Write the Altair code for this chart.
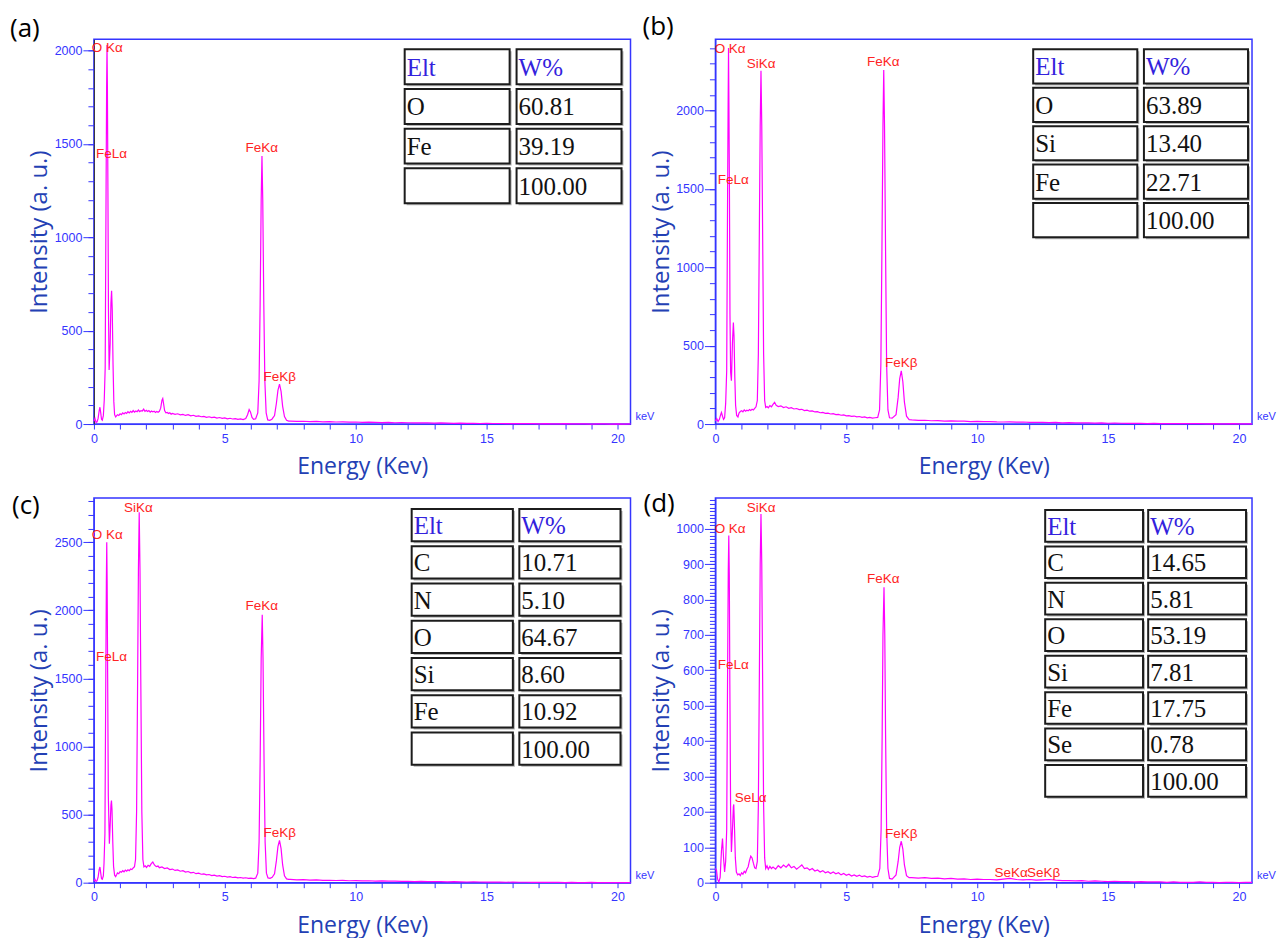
import altair as alt
import pandas as pd

# ---------------------------------------------------------------- data ----
XMAX = 20.5
TAIL_START = 7.5
TAIL_STEP = 0.25

# (energy keV, counts), 0 - 7.5 keV
A_LOW = [(0.00, 15), (0.04, 30), (0.08, 8), (0.12, 12), (0.16, 30), (0.20, 70), (0.23, 90), (0.26, 60),
         (0.29, 25), (0.32, 20), (0.36, 45), (0.395, 130), (0.43, 300), (0.465, 1270), (0.485, 1800),
         (0.50, 2030), (0.515, 1800), (0.535, 1250), (0.555, 620), (0.58, 290), (0.62, 430), (0.65, 650),
         (0.675, 713), (0.70, 610), (0.73, 320), (0.76, 120), (0.79, 50), (0.83, 38), (0.87, 45), (0.9, 50),
         (0.95, 46), (1.0, 55), (1.05, 50), (1.1, 60), (1.15, 54), (1.2, 62), (1.25, 57), (1.3, 66),
         (1.35, 60), (1.4, 68), (1.45, 62), (1.5, 72), (1.55, 64), (1.6, 70), (1.65, 66), (1.7, 75),
         (1.75, 66), (1.8, 72), (1.85, 70), (1.9, 80), (1.95, 68), (2.0, 74), (2.05, 67), (2.1, 72),
         (2.15, 64), (2.2, 70), (2.25, 65), (2.3, 69), (2.35, 62), (2.4, 67), (2.45, 63), (2.5, 68),
         (2.55, 85), (2.6, 128), (2.63, 137), (2.66, 110), (2.7, 72), (2.75, 60), (2.8, 62), (2.85, 56),
         (2.9, 60), (2.95, 53), (3.0, 57), (3.1, 52), (3.2, 55), (3.3, 49), (3.4, 52), (3.5, 46), (3.6, 50),
         (3.7, 44), (3.8, 47), (3.9, 41), (4.0, 44), (4.1, 39), (4.2, 41), (4.3, 36), (4.4, 39), (4.5, 34),
         (4.6, 37), (4.7, 32), (4.8, 35), (4.9, 30), (5.0, 33), (5.1, 28), (5.2, 31), (5.3, 27), (5.4, 29),
         (5.5, 25), (5.6, 28), (5.7, 24), (5.8, 30), (5.87, 50), (5.93, 78), (5.98, 65), (6.04, 35),
         (6.1, 25), (6.18, 28), (6.26, 60), (6.31, 230), (6.35, 640), (6.39, 1200), (6.42, 1435),
         (6.45, 1200), (6.49, 640), (6.53, 230), (6.58, 60), (6.64, 22), (6.72, 20), (6.8, 26), (6.9, 45),
         (6.97, 110), (7.03, 180), (7.09, 214), (7.15, 175), (7.21, 95), (7.28, 40), (7.36, 20), (7.44, 16)]

B_LOW = [(0.00, 20), (0.05, 35), (0.10, 15), (0.15, 30), (0.20, 60), (0.23, 74), (0.27, 50), (0.31, 30),
         (0.35, 40), (0.39, 130), (0.43, 340), (0.465, 1480), (0.485, 2050), (0.50, 2400), (0.515, 2050),
         (0.535, 1500), (0.555, 700), (0.58, 330), (0.61, 276), (0.65, 520), (0.685, 648), (0.71, 560),
         (0.74, 300), (0.77, 120), (0.81, 55), (0.86, 45), (0.9, 70), (0.95, 80), (1.0, 85), (1.05, 78),
         (1.1, 90), (1.15, 82), (1.2, 88), (1.25, 84), (1.3, 92), (1.35, 86), (1.4, 95), (1.45, 90),
         (1.5, 100), (1.55, 110), (1.6, 150), (1.64, 450), (1.68, 1280), (1.71, 1900), (1.74, 2255),
         (1.77, 1900), (1.80, 1280), (1.84, 450), (1.88, 150), (1.92, 106), (1.97, 112), (2.02, 104),
         (2.08, 118), (2.14, 110), (2.2, 125), (2.26, 138), (2.32, 120), (2.4, 112), (2.5, 116), (2.6, 105),
         (2.7, 110), (2.8, 100), (2.9, 104), (3.0, 96), (3.1, 99), (3.2, 92), (3.3, 94), (3.4, 86),
         (3.5, 89), (3.6, 82), (3.7, 84), (3.8, 77), (3.9, 79), (4.0, 72), (4.1, 74), (4.2, 68), (4.3, 70),
         (4.4, 64), (4.5, 66), (4.6, 60), (4.7, 62), (4.8, 56), (4.9, 58), (5.0, 52), (5.1, 54), (5.2, 49),
         (5.3, 51), (5.4, 46), (5.5, 48), (5.6, 43), (5.7, 45), (5.8, 40), (5.9, 42), (6.0, 38), (6.1, 40),
         (6.2, 42), (6.27, 90), (6.32, 380), (6.36, 1100), (6.40, 1900), (6.43, 2260), (6.46, 1900),
         (6.50, 1100), (6.54, 380), (6.59, 90), (6.65, 40), (6.75, 38), (6.9, 60), (6.98, 170), (7.04, 290),
         (7.10, 340), (7.16, 270), (7.22, 140), (7.3, 50), (7.4, 28)]

C_LOW = [(0.00, 10), (0.04, 25), (0.08, 8), (0.12, 15), (0.16, 40), (0.20, 95), (0.23, 115), (0.26, 70),
         (0.29, 30), (0.32, 25), (0.36, 50), (0.385, 140), (0.42, 360), (0.455, 1550), (0.475, 2200),
         (0.49, 2500), (0.505, 2200), (0.525, 1500), (0.55, 640), (0.59, 286), (0.62, 420), (0.65, 570),
         (0.67, 603), (0.69, 540), (0.72, 300), (0.75, 120), (0.79, 55), (0.83, 45), (0.87, 60), (0.9, 72),
         (0.95, 66), (1.0, 82), (1.05, 76), (1.1, 88), (1.15, 80), (1.2, 92), (1.25, 84), (1.3, 95),
         (1.35, 88), (1.4, 100), (1.45, 96), (1.5, 108), (1.55, 118), (1.59, 170), (1.63, 520), (1.67, 1500),
         (1.70, 2300), (1.73, 2720), (1.76, 2300), (1.79, 1500), (1.83, 520), (1.87, 170), (1.91, 116),
         (1.96, 124), (2.01, 112), (2.07, 128), (2.13, 120), (2.19, 140), (2.25, 152), (2.31, 130),
         (2.38, 118), (2.45, 122), (2.5, 110), (2.6, 116), (2.7, 104), (2.8, 108), (2.9, 96), (3.0, 100),
         (3.1, 90), (3.2, 94), (3.3, 84), (3.4, 88), (3.5, 78), (3.6, 82), (3.7, 72), (3.8, 76), (3.9, 66),
         (4.0, 70), (4.1, 62), (4.2, 65), (4.3, 57), (4.4, 60), (4.5, 52), (4.6, 55), (4.7, 48), (4.8, 51),
         (4.9, 44), (5.0, 47), (5.1, 41), (5.2, 44), (5.3, 38), (5.4, 41), (5.5, 36), (5.6, 38), (5.7, 33),
         (5.8, 36), (5.9, 31), (6.0, 34), (6.1, 30), (6.18, 33), (6.26, 70), (6.31, 300), (6.35, 880),
         (6.39, 1650), (6.43, 1967), (6.46, 1650), (6.50, 880), (6.54, 300), (6.59, 70), (6.65, 35),
         (6.73, 32), (6.81, 40), (6.9, 65), (6.97, 160), (7.03, 265), (7.09, 310), (7.15, 250), (7.21, 130),
         (7.28, 50), (7.36, 28), (7.44, 24)]

D_LOW = [(0.00, 40), (0.04, 35), (0.08, 10), (0.13, 2), (0.18, 15), (0.23, 90), (0.27, 125), (0.31, 70),
         (0.35, 30), (0.39, 60), (0.43, 150), (0.465, 600), (0.49, 880), (0.51, 981), (0.53, 870),
         (0.55, 560), (0.58, 200), (0.61, 87), (0.65, 150), (0.685, 215), (0.70, 221), (0.73, 150),
         (0.76, 70), (0.80, 30), (0.85, 22), (0.9, 25), (0.95, 20), (1.0, 28), (1.05, 24), (1.1, 32),
         (1.15, 28), (1.2, 38), (1.25, 45), (1.3, 62), (1.35, 75), (1.4, 70), (1.45, 55), (1.5, 42),
         (1.55, 40), (1.6, 60), (1.64, 220), (1.68, 600), (1.71, 900), (1.74, 1042), (1.77, 900), (1.80, 600),
         (1.84, 220), (1.88, 70), (1.92, 40), (1.97, 48), (2.02, 38), (2.08, 46), (2.14, 40), (2.2, 44),
         (2.3, 38), (2.4, 48), (2.5, 42), (2.6, 50), (2.7, 44), (2.8, 52), (2.9, 42), (3.0, 46), (3.1, 38),
         (3.2, 44), (3.3, 50), (3.4, 40), (3.5, 42), (3.6, 36), (3.7, 40), (3.8, 33), (3.9, 36), (4.0, 30),
         (4.1, 34), (4.2, 28), (4.3, 31), (4.4, 26), (4.5, 30), (4.6, 25), (4.7, 28), (4.8, 22), (4.9, 26),
         (5.0, 21), (5.1, 24), (5.2, 19), (5.3, 22), (5.4, 18), (5.5, 21), (5.6, 17), (5.7, 19), (5.8, 16),
         (5.9, 18), (6.0, 15), (6.1, 17), (6.2, 18), (6.28, 40), (6.33, 150), (6.37, 420), (6.40, 700),
         (6.44, 835), (6.47, 700), (6.50, 420), (6.54, 150), (6.59, 40), (6.65, 12), (6.75, 10), (6.9, 22),
         (6.98, 60), (7.04, 100), (7.10, 117), (7.16, 95), (7.22, 50), (7.3, 20), (7.4, 14)]

# counts from 7.5 keV to 20.5 keV, one value every 0.25 keV
A_TAIL = [16, 14, 15, 13, 14, 12, 13, 11, 12, 10, 11, 9, 10, 9, 8, 9, 7, 8, 7, 6,
          7, 6, 5, 6, 5, 4, 5, 4, 4, 3, 4, 3, 3, 2, 3, 2, 2, 2, 1, 2,
          1, 1, 2, 1, 1, 1, 0, 1, 1, 0, 1, 0, 1]
B_TAIL = [26, 23, 24, 21, 22, 19, 20, 18, 19, 16, 17, 15, 16, 14, 13, 14, 12, 13, 11, 10,
          11, 9, 10, 8, 9, 7, 8, 7, 6, 7, 5, 6, 5, 4, 5, 4, 3, 4, 3, 3,
          2, 3, 2, 2, 2, 1, 2, 1, 1, 2, 1, 1, 1]
C_TAIL = [24, 21, 23, 19, 20, 17, 18, 16, 17, 14, 15, 13, 14, 12, 13, 11, 11, 9, 10, 8,
          9, 8, 8, 7, 6, 7, 6, 5, 6, 5, 4, 5, 4, 3, 4, 3, 3, 2, 3, 2,
          2, 2, 1, 2, 1, 1, 2, 1, 1, 1, 0, 1, 1]
D_TAIL = [14, 13, 14, 12, 13, 11, 12, 10, 11, 9, 10, 9, 9, 8, 10, 12, 9, 8, 9, 7,
          8, 9, 7, 6, 6, 5, 6, 4, 5, 4, 3, 4, 3, 3, 2, 3, 2, 2, 2, 1,
          2, 1, 1, 1, 2, 1, 1, 0, 1, 1, 0, 1, 1]

# peak labels: text, energy of the left edge, intensity of the middle
A_LAB = ["O Kα", "FeLα", "FeKα", "FeKβ"]
A_LAB_E = [-0.08, 0.08, 5.79, 6.48]
A_LAB_I = [2016, 1444, 1476, 251]
B_LAB = ["O Kα", "SiKα", "FeKα", "FeLα", "FeKβ"]
B_LAB_E = [-0.03, 1.2, 5.79, 0.09, 6.48]
B_LAB_I = [2395, 2300, 2312, 1560, 389]
C_LAB = ["SiKα", "O Kα", "FeLα", "FeKα", "FeKβ"]
C_LAB_E = [1.15, -0.08, 0.08, 5.79, 6.48]
C_LAB_I = [2754, 2556, 1655, 2029, 364]
D_LAB = ["SiKα", "O Kα", "FeLα", "SeLα", "FeKα", "FeKβ", "SeKα", "SeKβ"]
D_LAB_E = [1.2, -0.03, 0.09, 0.74, 5.79, 6.48, 10.66, 11.9]
D_LAB_I = [1058, 999, 615, 239, 858, 138, 27, 27]

# composition tables
HEAD = ["Elt", "W%"]
A_ELT = ["O", "Fe", ""]
A_WT = ["60.81", "39.19", "100.00"]
B_ELT = ["O", "Si", "Fe", ""]
B_WT = ["63.89", "13.40", "22.71", "100.00"]
C_ELT = ["C", "N", "O", "Si", "Fe", ""]
C_WT = ["10.71", "5.10", "64.67", "8.60", "10.92", "100.00"]
D_ELT = ["C", "N", "O", "Si", "Fe", "Se", ""]
D_WT = ["14.65", "5.81", "53.19", "7.81", "17.75", "0.78", "100.00"]

# axis scales
A_YMAX, B_YMAX, C_YMAX, D_YMAX = 2060, 2455, 2825, 1087
A_MAJOR = [0, 500, 1000, 1500, 2000]
A_MINOR = list(range(0, 2001, 100))
B_MAJOR = [0, 500, 1000, 1500, 2000]
B_MINOR = list(range(0, 2401, 100))
C_MAJOR = [0, 500, 1000, 1500, 2000, 2500]
C_MINOR = list(range(0, 2801, 100))
D_MAJOR = list(range(0, 1001, 100))
D_MINOR = list(range(0, 1081, 10))

# ---------------------------------------------------------------- style ---
W, H = 537, 385
BLUE = "#3535ff"
TITLE_BLUE = "#2340b4"
MAGENTA = "#ff00ff"
RED = "#ff2424"
TICK_FONT = "Liberation Sans"


def panel(letter, low, tail, lab, lab_e, lab_i, elts, wts, ymax, major, minor,
          tdx, tdy, txr, tyr, tpx, tpy, ycolor):
    energies = [p[0] for p in low] + [TAIL_START + TAIL_STEP * i for i in range(len(tail))]
    counts = [p[1] for p in low] + list(tail)
    spec = pd.DataFrame({"E": energies, "I": counts})

    xs = alt.Scale(domain=[0, XMAX], nice=False, zero=False)
    ys = alt.Scale(domain=[0, ymax], nice=False)

    xaxis = alt.Axis(values=list(range(0, 21)),
                     labelExpr="datum.value % 5 === 0 ? datum.label : ''",
                     tickSize=5, tickColor=BLUE, domainColor=BLUE, labelColor=BLUE,
                     labelFont=TICK_FONT, labelFontSize=12.5, labelPadding=3,
                     labelFlush=False, labelOverlap=False, grid=False,
                     title="Energy (Kev)", titleFont="Open Sans", titleFontSize=23,
                     titleFontWeight="normal", titleColor=TITLE_BLUE,
                     titleY=43, titleBaseline="middle")
    yaxis = alt.Axis(values=major, orient="left", format="d", tickSize=11, tickColor=BLUE,
                     domainColor=ycolor, labelColor=BLUE, labelFont=TICK_FONT,
                     labelFontSize=12.5, labelPadding=1, labelFlush=False,
                     labelOverlap=False, grid=False,
                     title="Intensity (a. u.)", titleFont="Open Sans", titleFontSize=24,
                     titleFontWeight="normal", titleColor=TITLE_BLUE,
                     titleX=-54, titleBaseline="middle")
    yminor = alt.Axis(values=minor, orient="left", tickSize=6, tickColor=BLUE,
                      labels=False, domain=False, grid=False, title=None)

    line = alt.Chart(spec).mark_line(color=MAGENTA, strokeWidth=1.2).encode(
        x=alt.X("E:Q", scale=xs, axis=xaxis),
        y=alt.Y("I:Q", scale=ys, axis=yaxis),
    )
    minor_ticks = alt.Chart(spec).mark_line(strokeOpacity=0).encode(
        x=alt.X("E:Q", scale=xs, axis=None),
        y=alt.Y("I:Q", scale=ys, axis=yminor),
    )
    labels = alt.Chart(pd.DataFrame({"t": lab, "E": lab_e, "I": lab_i})).mark_text(
        align="left", baseline="middle", color=RED, font="Liberation Sans", fontSize=13.5
    ).encode(
        x=alt.X("E:Q", scale=xs, axis=None),
        y=alt.Y("I:Q", scale=ys, axis=None),
        text="t:N",
    )
    kev = alt.Chart(pd.DataFrame({"t": ["keV"], "E": [XMAX], "I": [0]})).mark_text(
        align="left", baseline="middle", color=BLUE, font=TICK_FONT, fontSize=11, dx=5, dy=-7
    ).encode(
        x=alt.X("E:Q", scale=xs, axis=None),
        y=alt.Y("I:Q", scale=ys, axis=None),
        text="t:N",
    )
    spectrum = alt.layer(line, minor_ticks, labels, kev).resolve_axis(x="independent", y="independent")

    # table
    col1 = [HEAD[0]] + elts
    col2 = [HEAD[1]] + wts
    recs = []
    for r in range(len(col1)):
        kind = "head" if r == 0 else "body"
        recs.append({"row": r, "col": "c0", "text": col1[r], "kind": kind})
        recs.append({"row": r, "col": "c1", "text": col2[r], "kind": kind})
    tdf = pd.DataFrame(recs)
    tx = alt.Scale(type="band", domain=["c0", "c1"], range=txr, paddingInner=tpx, paddingOuter=0)
    ty = alt.Scale(type="band", domain=list(range(len(col1))), range=tyr,
                   paddingInner=tpy, paddingOuter=0)
    base = alt.Chart(tdf)
    shadow = base.mark_rect(fill="#b4b4b4", xOffset=2, yOffset=2).encode(
        x=alt.X("col:N", scale=tx, axis=None),
        y=alt.Y("row:O", scale=ty, axis=None),
    )
    cells = base.mark_rect(fill="white", stroke="#1c1c1c", strokeWidth=2).encode(
        x=alt.X("col:N", scale=tx, axis=None),
        y=alt.Y("row:O", scale=ty, axis=None),
    )
    texts = base.mark_text(align="left", baseline="middle", dx=2, dy=1,
                           font="Liberation Serif", fontSize=25).encode(
        x=alt.X("col:N", scale=tx, axis=None, bandPosition=0),
        y=alt.Y("row:O", scale=ty, axis=None),
        text="text:N",
        color=alt.Color("kind:N", scale=alt.Scale(domain=["head", "body"],
                                                  range=["#3322dd", "#111111"]), legend=None),
    )
    table = alt.layer(shadow, cells, texts)

    return alt.layer(spectrum, table).resolve_scale(x="independent", y="independent").properties(
        width=W, height=H,
        title=alt.TitleParams(letter, anchor="start", frame="group", dx=tdx, dy=tdy, offset=0,
                              baseline="middle", font="Open Sans", fontSize=26,
                              fontWeight="normal", color="black"),
    )


pa = panel("(a)", A_LOW, A_TAIL, A_LAB, A_LAB_E, A_LAB_I, A_ELT, A_WT, A_YMAX, A_MAJOR, A_MINOR,
           -84, 16, [311, 528], [10, 164], 0.062, 0.12, "#333333")
pb = panel("(b)", B_LOW, B_TAIL, B_LAB, B_LAB_E, B_LAB_I, B_ELT, B_WT, B_YMAX, B_MAJOR, B_MINOR,
           -73, 14, [318, 533], [10, 198], 0.06, 0.11, BLUE)
pc = panel("(c)", C_LOW, C_TAIL, C_LAB, C_LAB_E, C_LAB_I, C_ELT, C_WT, C_YMAX, C_MAJOR, C_MINOR,
           -82, 34, [318, 527], [11, 267], 0.06, 0.135, BLUE)
pd_ = panel("(d)", D_LOW, D_TAIL, D_LAB, D_LAB_E, D_LAB_I, D_ELT, D_WT, D_YMAX, D_MAJOR, D_MINOR,
            -72, 32, [330, 531], [12, 299], 0.05, 0.13, BLUE)

chart = alt.concat(pa, pb, pc, pd_, columns=2, spacing={"row": 74, "column": 85}, bounds="flush").resolve_scale(
    x="independent", y="independent"
).properties(
    padding={"left": 9, "top": 13, "right": 0, "bottom": 0}, background="white"
).configure_view(stroke=BLUE, strokeWidth=1.5)

chart.save("out.html", embed_options={"renderer": "svg", "actions": False})
